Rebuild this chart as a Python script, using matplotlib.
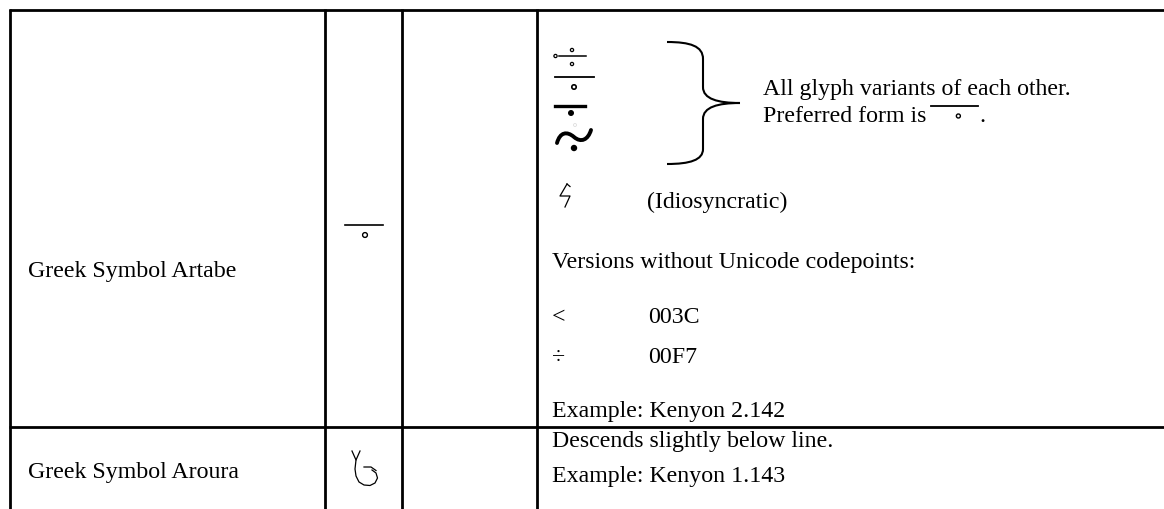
#!/usr/bin/env python3
import matplotlib
matplotlib.use('Agg')
import matplotlib.pyplot as plt
from matplotlib.patches import Circle, PathPatch
from matplotlib.path import Path

# table contents
names = ["Greek Symbol Artabe", "Greek Symbol Aroura"]
variant_note = ["All glyph variants of each other.", "Preferred form is"]
idio_note = "(Idiosyncratic)"
versions_head = "Versions without Unicode codepoints:"
version_chars = ["<", "\u00f7"]
version_codes = ["003C", "00F7"]
examples = ["Example: Kenyon 2.142", "Example: Kenyon 1.143"]
aroura_note = "Descends slightly below line."

# grid (pixel coordinates of the page)
col_x = [10, 325, 402, 537]
row_y = [11, 428]
W, H = 1164, 510

plt.rcParams['font.family'] = ['Liberation Serif', 'DejaVu Serif']
FS = 17.2

fig = plt.figure(figsize=(W / 100, H / 100), dpi=100)
ax = fig.add_axes([0, 0, 1, 1])
ax.set_xlim(0, W)
ax.set_ylim(H, 0)
ax.axis('off')

for y in row_y:
    ax.plot([col_x[0] - 1, W], [y, y], color='black', lw=2, solid_capstyle='butt')
for x in col_x:
    ax.plot([x, x], [row_y[0] - 1, H], color='black', lw=2, solid_capstyle='butt')


def txt(x, y, s, **kw):
    return ax.text(x, y, s, fontsize=FS, va='baseline', ha='left', **kw)


def ring(x, y, r, lw=1.0):
    ax.add_patch(Circle((x, y), r, fill=False, lw=lw, color='black'))


def dot(x, y, r):
    ax.add_patch(Circle((x, y), r, fill=True, color='black', lw=0))


# column 1: names
txt(28, 277, names[0])
txt(28, 478, names[1])

# column 2: artabe glyph
ax.plot([345, 383], [226, 226], color='black', lw=1.2)
ring(365, 236, 2.4)

# column 2: aroura glyph
ax.plot([352, 356, 360], [452, 461, 452], color='black', lw=0.9)
ax.plot([356, 355, 356, 359, 364, 370, 375, 377.5, 376, 372],
        [461, 470, 477, 483, 486, 486.5, 484, 479, 474, 471], color='black', lw=0.9)
ax.plot([364, 371, 376], [468, 468, 471.5], color='black', lw=0.9)

# column 4, row 1: glyph variants
ax.plot([559, 586], [57, 57], color='black', lw=1.1)
ring(555.5, 57, 1.6, 0.9)
ring(572, 51, 1.6, 0.9)
ring(572, 65, 1.6, 0.9)

ax.plot([555, 594], [78, 78], color='black', lw=1.3)
ring(574, 88, 2.2, 1.2)

ax.plot([555, 585], [107, 107], color='black', lw=2.4)
dot(571, 114, 3.0)

tilde = Path([(557, 144), (560, 133), (567, 132), (574, 138),
              (581, 144), (588, 141), (591, 131)],
             [Path.MOVETO, Path.CURVE4, Path.CURVE4, Path.CURVE4,
              Path.CURVE4, Path.CURVE4, Path.CURVE4])
ax.add_patch(PathPatch(tilde, fill=False, lw=2.8, color='black', capstyle='round'))
dot(574, 149, 3.2)
ax.add_patch(Circle((575, 126), 1.5, fill=False, lw=0.6, color='#dddddd'))

# brace
brace = Path([(667, 43), (690, 43), (703, 47), (703, 60),
              (703, 88),
              (703, 100), (718, 104), (740, 104),
              (718, 104), (703, 108), (703, 120),
              (703, 150),
              (703, 161), (690, 165), (667, 165)],
             [Path.MOVETO, Path.CURVE4, Path.CURVE4, Path.CURVE4,
              Path.LINETO,
              Path.CURVE4, Path.CURVE4, Path.CURVE4,
              Path.CURVE4, Path.CURVE4, Path.CURVE4,
              Path.LINETO,
              Path.CURVE4, Path.CURVE4, Path.CURVE4])
ax.add_patch(PathPatch(brace, fill=False, lw=1.5, color='black'))

txt(763, 95, variant_note[0])
pref = txt(763, 122, variant_note[1])

fig.canvas.draw()
r = fig.canvas.get_renderer()
bb = pref.get_window_extent(r)
xe = ax.transData.inverted().transform((bb.x1, bb.y0))[0]
ax.plot([xe + 5, xe + 52], [107, 107], color='black', lw=1.3)
ring(xe + 32, 117, 2.0, 1.0)
txt(xe + 53, 122, ".")

# idiosyncratic form
ax.plot([567, 570], [185, 187.5], color='black', lw=0.9)
ax.plot([567, 560, 570, 565], [185, 197, 197, 208], color='black', lw=0.9)
txt(647, 208, idio_note)

txt(552, 268, versions_head)
txt(552, 323, version_chars[0])
txt(648, 323, version_codes[0])
txt(552, 363, version_chars[1])
txt(648, 363, version_codes[1])
txt(552, 417, examples[0])

# row 2
txt(552, 447, aroura_note)
txt(552, 482, examples[1])

fig.savefig('out.png', dpi=100)
